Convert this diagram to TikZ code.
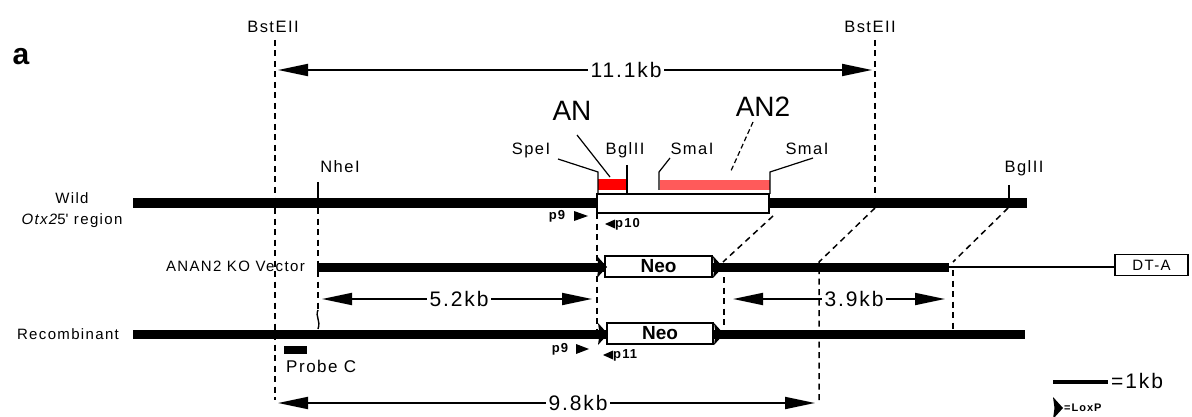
\documentclass[tikz,border=0pt]{standalone}
\usepackage{fontspec}
\setmainfont{Liberation Sans}
\newfontfamily\lbl{Liberation Sans}[LetterSpace=9]
\usetikzlibrary{arrows.meta}
\definecolor{anred}{HTML}{FF0000}
\definecolor{antwored}{HTML}{FF5A5A}
\begin{document}
\begin{tikzpicture}[x=1pt,y=-1pt,
  dna/.style={line width=9pt},
  thinline/.style={line width=1.4pt},
  guide/.style={line width=1.5pt, dash pattern=on 6pt off 4.5pt},
  leader/.style={line width=1.2pt},
  span/.style={line width=1.9pt,
    {Triangle[length=30pt,width=12pt]}-{Triangle[length=30pt,width=12pt]}},
  site/.style={font=\lbl\fontsize{16.5}{18}\selectfont, inner sep=0pt, anchor=base},
  rowlabel/.style={font=\lbl\fontsize{15}{17}\selectfont, inner sep=0pt, anchor=base},
  kb/.style={font=\lbl\fontsize{21}{24}\selectfont, fill=white, inner xsep=3pt, inner ysep=0pt},
  domainlabel/.style={font=\fontsize{28}{32}\selectfont, inner sep=0pt, anchor=base},
  cassette/.style={draw, line width=1.5pt, fill=white, inner sep=0pt,
    minimum height=21pt, font=\bfseries\fontsize{19}{21}\selectfont},
  primer/.style={font=\lbl\bfseries\fontsize{13}{15}\selectfont, inner sep=0pt},
  loxp/.pic={\fill (0,-11) -- (10,0) -- (0,11) -- (1.5,0) -- cycle;}
]
\useasboundingbox (0,0) rectangle (1192,417);

% panel letter
\node[font=\bfseries\fontsize{30}{34}\selectfont, inner sep=0pt] (panel) at (21,57) {a};

% row labels
\node[rowlabel] (wildA) at (72,204) {Wild};
\node[rowlabel] (wildB) at (72,225) {{\itshape Otx2}5\textquotesingle\ region};
\node[rowlabel, anchor=base east] (vec) at (305,271) {ANAN2 KO Vector};
\node[rowlabel] (rec) at (68,339) {Recombinant};

% restriction site labels
\node[site] (bstL) at (273,33) {BstEII};
\node[site] (bstR) at (870,33) {BstEII};
\node[site] (spe) at (531,155) {SpeI};
\node[site] (bglL) at (625,155) {BglII};
\node[site] (smaL) at (692,155) {SmaI};
\node[site] (smaR) at (807,155) {SmaI};
\node[site] (nhe) at (340,173) {NheI};
\node[site] (bglR) at (1024,173) {BglII};
\node[domainlabel] (an) at (572,121) {AN};
\node[domainlabel] (antwo) at (763,117) {AN2};

% chromosome lines
\coordinate (wS) at (133,203); \coordinate (wE) at (1027,203);
\coordinate (vS) at (317,267); \coordinate (vE) at (949,267);
\coordinate (rS) at (133,334); \coordinate (rE) at (1025,334);
\draw[dna] (wS) -- (wE);
\draw[dna] (vS) -- (vE);
\draw[dna] (rS) -- (rE);

% deleted region in the wild-type allele
\node[draw, line width=2pt, fill=white, inner sep=0pt,
      minimum width=172pt, minimum height=19pt] (gap) at (683,203.5) {};
\fill[anred] (598,179) rectangle (627,190);
\fill[antwored] (660,180) rectangle (770,190);

% leaders and site ticks
\draw[leader] (558,159) -- (598,172) -- (598,194);
\draw[leader] (577,135) -- (610,177);
\draw[leader] (627,165) -- (627,194);
\draw[leader] (670,158) -- (659,172) -- (659,190);
\draw[leader, dash pattern=on 5pt off 3pt] (753,122) -- (730,173);
\draw[leader] (813,158) -- (770,172) -- (770,194);
\draw[leader] (318,182) -- (318,199);
\draw[leader] (1009,185) -- (1009,199);

% targeting vector
\node[draw, line width=1.4pt, fill=white, inner sep=0pt, minimum width=73pt,
      minimum height=21pt, font=\lbl\fontsize{15}{17}\selectfont] (dta) at (1151.5,265) {DT-A};
\draw[thinline] (vE) -- (vE -| dta.west);
\node[cassette, minimum width=107pt] (neoV) at (658.5,266.5) {Neo};
\pic at (597,267) {loxp};
\pic at (713,267) {loxp};

% recombinant allele
\node[cassette, minimum width=106pt] (neoR) at (660,333.5) {Neo};
\pic at (598,334) {loxp};
\pic at (714,334) {loxp};

% primers
\node[primer] (p9a) at (557,216) {p9};
\fill (574,211) -- (588,216) -- (574,221) -- cycle;
\fill (615,219.5) -- (605,224) -- (615,228.5) -- cycle;
\node[primer, anchor=west] (p10) at (615,224) {p10};
\node[primer] (p9b) at (560,349) {p9};
\fill (576,344) -- (589,349) -- (576,354) -- cycle;
\fill (613,350.5) -- (603,355) -- (613,359.5) -- cycle;
\node[primer, anchor=west] (p11) at (613,355) {p11};

% probe
\fill (284,346) rectangle (307,354);
\node[rowlabel, anchor=base west, font=\lbl\fontsize{17}{19}\selectfont] (probe) at (286,372) {Probe C};

% fragment sizes
\coordinate (a1) at (278,70);  \coordinate (a2) at (872,70);
\coordinate (b1) at (322,299); \coordinate (b2) at (592,299);
\coordinate (c1) at (733,299); \coordinate (c2) at (945,299);
\coordinate (d1) at (278,403); \coordinate (d2) at (815,403);
\draw[span] (a1) -- (a2);
\draw[span] (b1) -- (b2);
\draw[span] (c1) -- (c2);
\draw[span] (d1) -- (d2);
\node[kb] (k111) at (626,70) {11.1kb};
\node[kb] (k52) at (459,299) {5.2kb};
\node[kb] (k39) at (854,299) {3.9kb};
\node[kb] (k98) at (578,403) {9.8kb};

% alignment guides
\draw[guide] (275,40) -- (275,400);
\draw[guide] (875,40) -- (875,199);
\draw[guide] (875,208) -- (819,262) -- (819,400);
\draw[guide] (318,208) -- (318,310);
\draw[thinline] (318,310) .. controls (315,317) and (321,320) .. (318,329);
\draw[guide] (597,213) -- (597,329);
\draw[guide] (773,216) -- (723,262);
\draw[guide] (724,277) -- (724,329);
\draw[guide] (1008,208) -- (953,262);
\draw[guide] (953,270) -- (953,330);

% legend
\coordinate (sbS) at (1053,382); \coordinate (sbE) at (1108,382);
\draw[line width=3.5pt] (sbS) -- (sbE);
\node[font=\lbl\fontsize{21}{24}\selectfont, inner sep=0pt, anchor=west] (onekb) at (1111,381) {=1kb};
\pic at (1053,408) {loxp};
\node[primer, anchor=west, font=\lbl\bfseries\fontsize{11}{13}\selectfont] (loxleg) at (1064,408) {=LoxP};
\end{tikzpicture}
\end{document}
